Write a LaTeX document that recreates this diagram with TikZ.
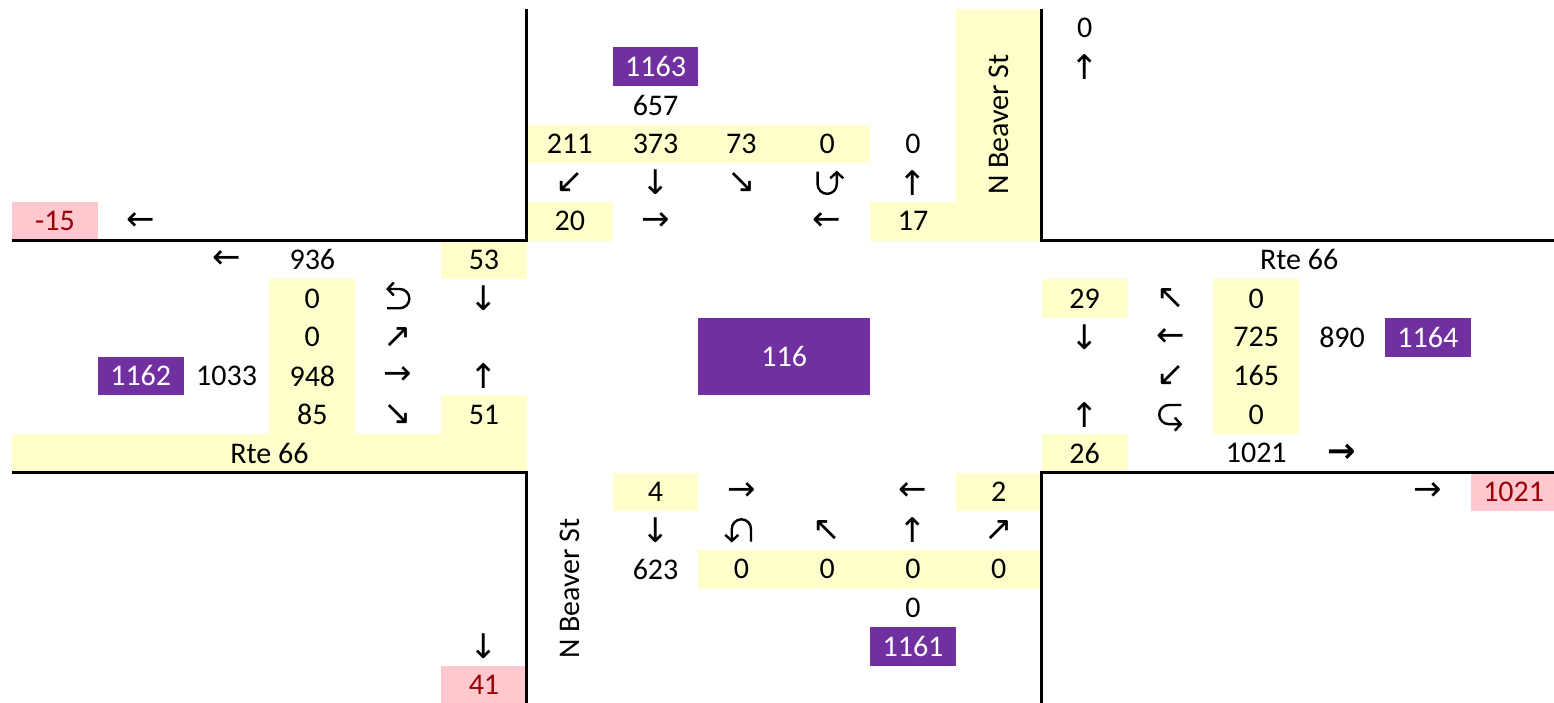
\documentclass[tikz,border=0pt]{standalone}
\usepackage{fontspec}
\setmainfont{Carlito}
\newfontfamily\arrowfont{DejaVu Sans}
\usepackage{xcolor}
\definecolor{tvyellow}{RGB}{255,255,204}
\definecolor{tvpurple}{RGB}{112,48,160}
\definecolor{tvpink}{RGB}{255,199,206}
\definecolor{tvred}{RGB}{156,0,6}
\usetikzlibrary{arrows.meta}

\tikzset{
  uturn/.pic={
    \draw[line width=1.2pt, -{Straight Barb[length=3pt,width=6.5pt]}]
      (-5.5pt,-4.8pt) -- (0.8pt,-4.8pt) arc[start angle=-90,end angle=90,radius=4.8pt] -- (-6pt,4.8pt);
  }
}

\begin{document}
\begin{tikzpicture}[
  x=42.9pt, y=-19.325pt,
  cell/.style={rectangle, minimum width=42.9pt, minimum height=19.325pt,
               inner sep=0pt, font=\fontsize{15}{18}\selectfont},
  yel/.style={cell, fill=tvyellow},
  vio/.style={cell, fill=tvpurple, text=white},
  neg/.style={cell, fill=tvpink, text=tvred},
  arw/.style={cell, font=\arrowfont\fontsize{17}{18}\selectfont},
  road/.style={line width=1.5pt}
]
\useasboundingbox (-0.14,-0.225) rectangle (17.97,17.96);

% North approach
\node[cell] (nOut)    at (12.5,0.5) {0};
\node[arw]  (nOutA)   at (12.5,1.5) {↑};
\node[vio]  (nTot)    at (7.5,1.5)  {1163};
\node[cell] (nIn)     at (7.5,2.5)  {657};
\node[yel]  (nRight)  at (6.5,3.5)  {211};
\node[yel]  (nThru)   at (7.5,3.5)  {373};
\node[yel]  (nLeft)   at (8.5,3.5)  {73};
\node[yel]  (nU)      at (9.5,3.5)  {0};
\node[cell] (nPed)    at (10.5,3.5) {0};
\node[yel, minimum width=6*19.325pt, minimum height=42.9pt, rotate=90]
            (nName)   at (11.5,3)   {N Beaver St};
\node[arw]  (nRightA) at (6.5,4.5)  {↙};
\node[arw]  (nThruA)  at (7.5,4.5)  {↓};
\node[arw]  (nLeftA)  at (8.5,4.5)  {↘};
\pic[rotate=-90]      at (9.5,4.5)  {uturn};
\node[arw]  (nPedA)   at (10.5,4.5) {↑};
\node[neg]  (wOutTot) at (0.5,5.5)  {-15};
\node[arw]  (wOutA)   at (1.5,5.5)  {←};
\node[yel]  (nwPed)   at (6.5,5.5)  {20};
\node[arw]  (nwPedA)  at (7.5,5.5)  {→};
\node[arw]  (nePedA)  at (9.5,5.5)  {←};
\node[yel]  (nePed)   at (10.5,5.5) {17};

% West approach
\node[arw]  (wOutB)   at (2.5,6.5)  {←};
\node[cell] (wOut)    at (3.5,6.5)  {936};
\node[yel]  (wnPed)   at (5.5,6.5)  {53};
\node[yel]  (wU)      at (3.5,7.5)  {0};
\pic                  at (4.5,7.5)  {uturn};
\node[arw]  (wnPedA)  at (5.5,7.5)  {↓};
\node[yel]  (wLeft)   at (3.5,8.5)  {0};
\node[arw]  (wLeftA)  at (4.5,8.5)  {↗};
\node[vio]  (wTot)    at (1.5,9.5)  {1162};
\node[cell] (wIn)     at (2.5,9.5)  {1033};
\node[yel]  (wThru)   at (3.5,9.5)  {948};
\node[arw]  (wThruA)  at (4.5,9.5)  {→};
\node[arw]  (wsPedA)  at (5.5,9.5)  {↑};
\node[yel]  (wRight)  at (3.5,10.5) {85};
\node[arw]  (wRightA) at (4.5,10.5) {↘};
\node[yel]  (wsPed)   at (5.5,10.5) {51};
\node[yel, minimum width=6*42.9pt] (wName) at (3,11.5) {Rte 66};

% Intersection total
\node[vio, minimum width=2*42.9pt, minimum height=2*19.325pt] (total) at (9,9) {116};

% East approach
\node[cell] (eName)   at (15,6.5)   {Rte 66};
\node[yel]  (enPed)   at (12.5,7.5) {29};
\node[arw]  (eRightA) at (13.5,7.5) {↖};
\node[yel]  (eRight)  at (14.5,7.5) {0};
\node[arw]  (enPedA)  at (12.5,8.5) {↓};
\node[arw]  (eThruA)  at (13.5,8.5) {←};
\node[yel]  (eThru)   at (14.5,8.5) {725};
\node[cell] (eIn)     at (15.5,8.5) {890};
\node[vio]  (eTot)    at (16.5,8.5) {1164};
\node[arw]  (eLeftA)  at (13.5,9.5) {↙};
\node[yel]  (eLeft)   at (14.5,9.5) {165};
\node[arw]  (esPedA)  at (12.5,10.5) {↑};
\pic[rotate=180]      at (13.5,10.5) {uturn};
\node[yel]  (eU)      at (14.5,10.5) {0};
\node[yel]  (esPed)   at (12.5,11.5) {26};
\node[cell] (eOut)    at (14.5,11.5) {1021};
\node[arw, font=\arrowfont\bfseries\fontsize{17}{18}\selectfont] (eOutA) at (15.5,11.5) {→};

% South approach
\node[yel]  (swPed)   at (7.5,12.5) {4};
\node[arw]  (swPedA)  at (8.5,12.5) {→};
\node[arw]  (sePedA)  at (10.5,12.5) {←};
\node[yel]  (sePed)   at (11.5,12.5) {2};
\node[arw]  (eOutB)   at (16.5,12.5) {→};
\node[neg]  (eOutTot) at (17.5,12.5) {1021};
\node[arw]  (sOutA)   at (7.5,13.5) {↓};
\pic[rotate=90]       at (8.5,13.5) {uturn};
\node[arw]  (sLeftA)  at (9.5,13.5) {↖};
\node[arw]  (sThruA)  at (10.5,13.5) {↑};
\node[arw]  (sRightA) at (11.5,13.5) {↗};
\node[cell] (sOut)    at (7.5,14.5) {623};
\node[yel]  (sU)      at (8.5,14.5) {0};
\node[yel]  (sLeft)   at (9.5,14.5) {0};
\node[yel]  (sThru)   at (10.5,14.5) {0};
\node[yel]  (sRight)  at (11.5,14.5) {0};
\node[cell] (sIn)     at (10.5,15.5) {0};
\node[vio]  (sTot)    at (10.5,16.5) {1161};
\node[arw]  (sOutB)   at (5.5,16.5) {↓};
\node[neg]  (sOutTot) at (5.5,17.5) {41};
\node[cell, minimum width=6*19.325pt, minimum height=42.9pt, rotate=90]
            (sName)   at (6.5,15)   {N Beaver St};

% Curbs
\draw[road] (6,0) -- (6,6) -- (0,6);
\draw[road] (0,12) -- (6,12) -- (6,17.96);
\draw[road] (12,0) -- (12,6) -- (17.97,6);
\draw[road] (17.97,12) -- (12,12) -- (12,17.96);
\end{tikzpicture}
\end{document}
